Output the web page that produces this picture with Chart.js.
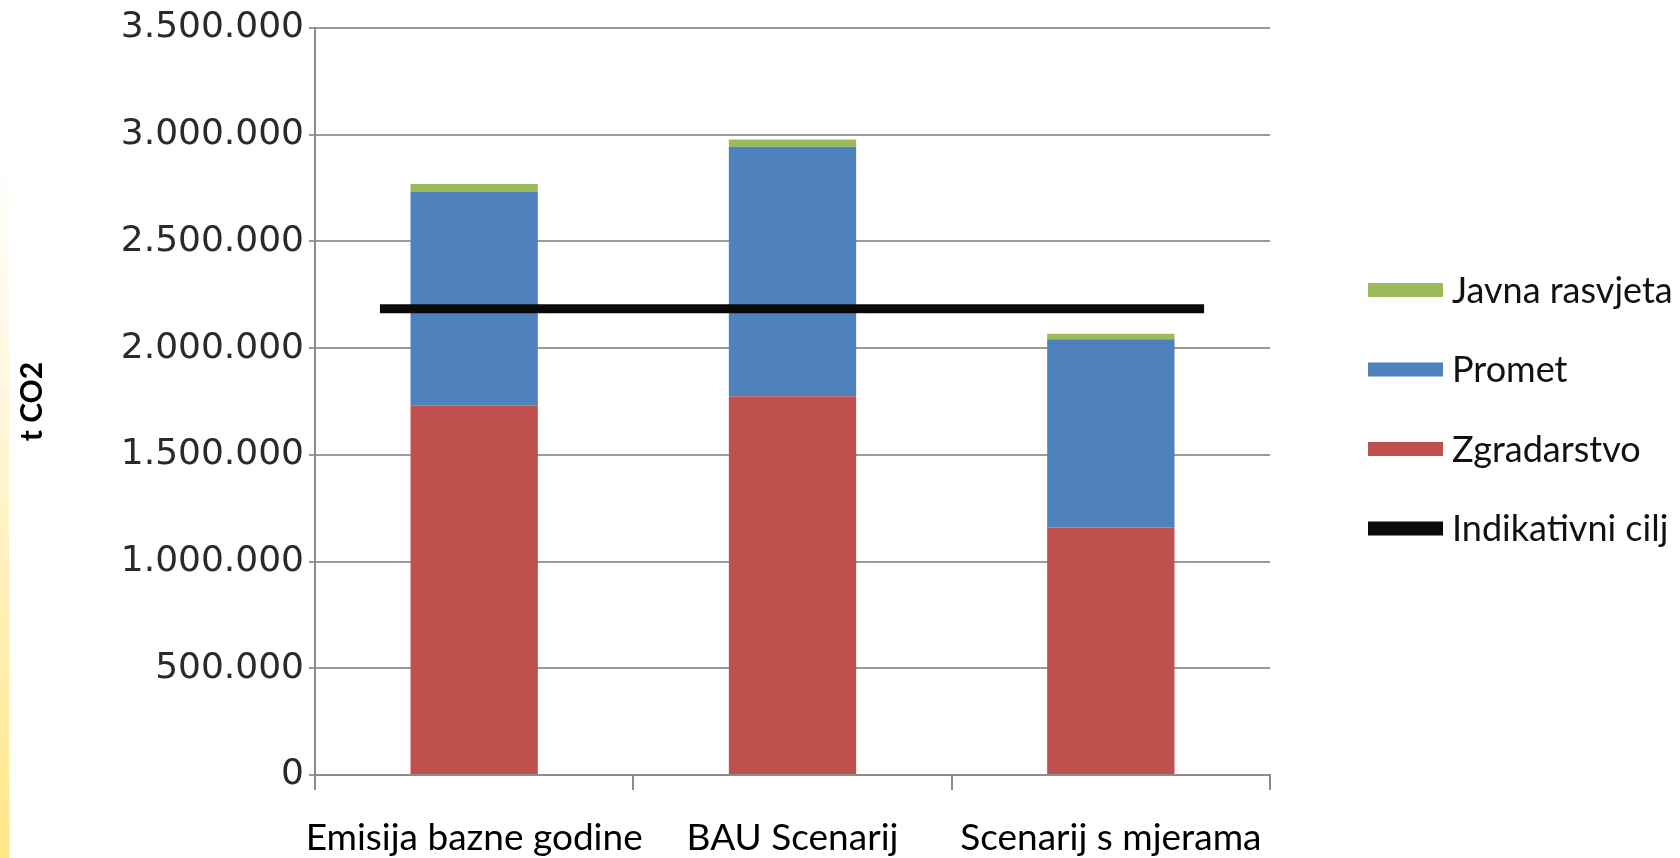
<!DOCTYPE html>
<html>
<head>
    <meta charset="utf-8">
    <title>Emisije CO2</title>
    <script src="https://cdn.jsdelivr.net/npm/chart.js"></script>
    <style>
        html, body { margin: 0; padding: 0; background: #fff; }
        body { width: 1680px; height: 858px; overflow: hidden; position: relative; }
        /* zuti rub slajda */
        .rub { position: absolute; left: 0; top: 0; width: 9px; height: 858px;
               background: linear-gradient(to bottom, #fff 18%, #fff7df 45%, #ffe686 100%); }
        #okvir { position: absolute; left: 0; top: 0; width: 1680px; height: 858px; }
    </style>
</head>
<body>
<div class="rub"></div>
<div id="okvir"><canvas id="emisijeChart"></canvas></div>

<script>
    // podaci (t CO2)
    const kategorije = ['Emisija bazne godine', 'BAU Scenarij', 'Scenarij s mjerama'];
    const zgradarstvo = [1730000, 1775000, 1160000];
    const promet = [1002000, 1169000, 882000];
    const javnaRasvjeta = [37000, 34000, 25000];

    // indikativni cilj - krajevi linije (x u jedinicama kategorija)
    const ciljX = [-0.296, 2.293];
    const ciljY = [2185000, 2185000];

    const yOznake = [0, 500000, 1000000, 1500000, 2000000, 2500000, 3000000, 3500000];
    const redLegende = ['Javna rasvjeta', 'Promet', 'Zgradarstvo', 'Indikativni cilj'];

    function formatBroja(v) {
        return String(v).replace(/\B(?=(\d{3})+(?!\d))/g, '.');
    }

    // legenda desno, kao u Excelu
    const legendaPlugin = {
        id: 'legenda',
        afterDraw(chart) {
            const ctx = chart.ctx;
            ctx.save();
            ctx.font = '36px Lato';
            ctx.textBaseline = 'middle';
            ctx.textAlign = 'left';
            redLegende.forEach((naziv, i) => {
                const ds = chart.data.datasets.find(d => d.label === naziv);
                const boja = ds.type === 'line' ? ds.borderColor : ds.backgroundColor;
                const y = 290 + i * 79.5;
                ctx.fillStyle = boja;
                ctx.fillRect(1368, y - 7, 75, 14);
                ctx.fillStyle = '#111';
                ctx.fillText(naziv, 1452, y + 1);
            });
            ctx.restore();
        }
    };

    const ctx = document.getElementById('emisijeChart').getContext('2d');
    new Chart(ctx, {
        type: 'bar',
        data: {
            labels: kategorije,
            datasets: [
                { label: 'Zgradarstvo', data: zgradarstvo, backgroundColor: '#C0504D', order: 2 },
                { label: 'Promet', data: promet, backgroundColor: '#4F81BD', order: 2 },
                { label: 'Javna rasvjeta', data: javnaRasvjeta, backgroundColor: '#9BBB59', order: 2 },
                {
                    type: 'line',
                    label: 'Indikativni cilj',
                    data: ciljX.map((x, i) => ({ x: x, y: ciljY[i] })),
                    xAxisID: 'xCilj',
                    stack: 'cilj',
                    borderColor: '#0a0a0a',
                    borderWidth: 9,
                    pointRadius: 0,
                    order: 1
                }
            ]
        },
        options: {
            responsive: true,
            maintainAspectRatio: false,
            animation: false,
            layout: { padding: { top: 28, right: 410, bottom: 0, left: 0 } },
            datasets: { bar: { barPercentage: 0.4, categoryPercentage: 1, grouped: false } },
            plugins: {
                legend: { display: false },
                tooltip: { enabled: false }
            },
            scales: {
                x: {
                    stacked: true,
                    afterFit: s => { s.height = 83; },
                    grid: { offset: true, drawOnChartArea: false, color: '#8c8c8c', lineWidth: 2, tickLength: 15 },
                    border: { color: '#8c8c8c', width: 2 },
                    ticks: {
                        color: '#000',
                        font: { family: 'Lato', size: 37, lineHeight: 1.0 },
                        padding: 30,
                        maxRotation: 0,
                        autoSkip: false
                    }
                },
                xCilj: {
                    type: 'linear',
                    min: -0.5,
                    max: 2.5,
                    offset: false,
                    grid: { offset: false },
                    display: false
                },
                y: {
                    stacked: true,
                    min: 0,
                    max: 3500000,
                    afterBuildTicks: s => { s.ticks = yOznake.map(v => ({ value: v })); },
                    afterFit: s => { s.width = 315; },
                    grid: { color: '#9a9a9a', lineWidth: 2, tickLength: 6 },
                    border: { color: '#8c8c8c', width: 2 },
                    ticks: {
                        color: '#2a2a2a',
                        font: { family: 'DejaVu Sans', size: 36 },
                        padding: 5,
                        callback: v => formatBroja(v)
                    },
                    title: {
                        display: true,
                        text: 't CO2',
                        color: '#000',
                        font: { family: 'Lato', size: 30, weight: 'bold' },
                        padding: { top: 14 }
                    }
                }
            }
        },
        plugins: [legendaPlugin]
    });
</script>
</body>
</html>
